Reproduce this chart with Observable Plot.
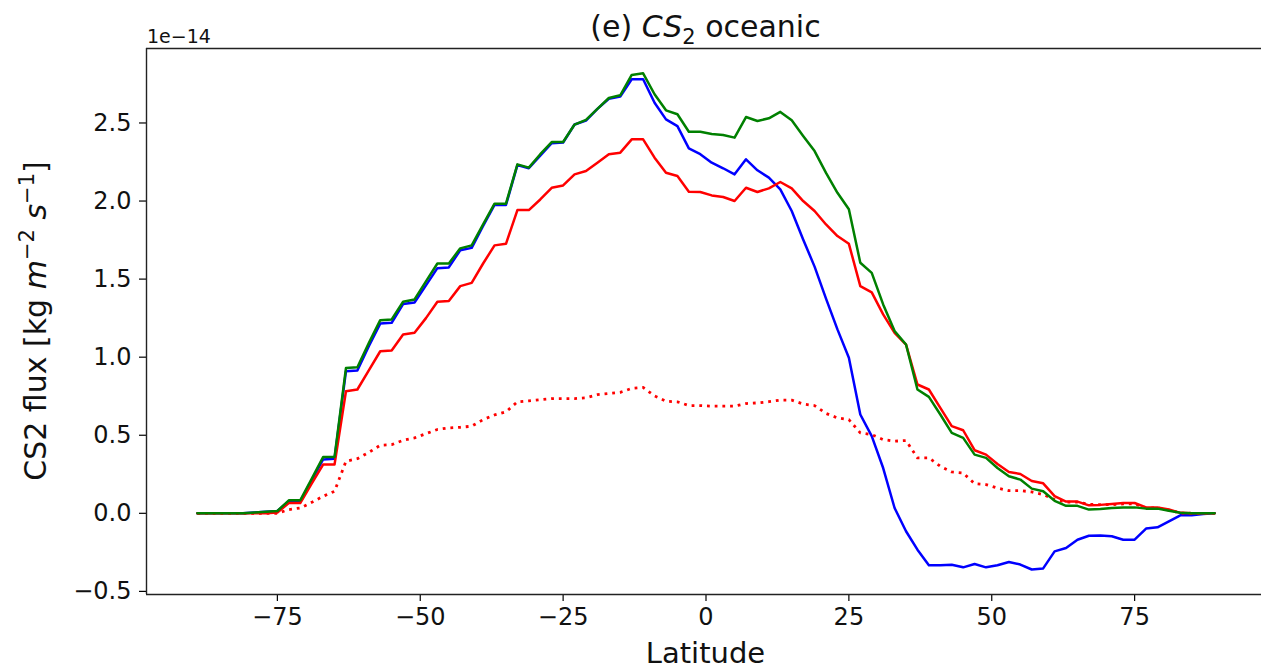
<!DOCTYPE html>
<html>
<head>
<meta charset="utf-8">
<script src="https://cdn.jsdelivr.net/npm/d3@7"></script>
<script src="https://cdn.jsdelivr.net/npm/@observablehq/plot@0.6"></script>
<style>
  html, body { margin: 0; padding: 0; background: #ffffff; }
  #chart { width: 1261px; height: 671px; overflow: hidden; }
</style>
</head>
<body>
<div id="chart"></div>
<script>
// Latitude grid (degrees)
const lat = [
  -89,-87,-85,-83,-81,-79,-77,-75,-73,-71,
  -69,-67,-65,-63,-61,-59,-57,-55,-53,-51,
  -49,-47,-45,-43,-41,-39,-37,-35,-33,-31,
  -29,-27,-25,-23,-21,-19,-17,-15,-13,-11,
  -9,-7,-5,-3,-1,1,3,5,7,9,
  11,13,15,17,19,21,23,25,27,29,
  31,33,35,37,39,41,43,45,47,49,
  51,53,55,57,59,61,63,65,67,69,
  71,73,75,77,79,81,83,85,87,89
];
// CS2 flux, units of 1e-14 kg m-2 s-1
const greenVals = [
  0,0,0,0,0,0.005,0.01,0.015,0.083,0.083,
  0.22,0.36,0.36,0.93,0.935,1.09,1.237,1.242,1.355,1.37,
  1.485,1.60,1.60,1.697,1.716,1.85,1.983,1.983,2.235,2.214,
  2.30,2.378,2.378,2.49,2.52,2.59,2.66,2.677,2.808,2.818,
  2.684,2.581,2.556,2.444,2.444,2.43,2.423,2.406,2.538,2.513,
  2.53,2.571,2.517,2.417,2.32,2.18,2.053,1.947,1.605,1.54,
  1.338,1.167,1.081,0.793,0.746,0.633,0.515,0.483,0.376,0.355,
  0.29,0.237,0.216,0.158,0.141,0.08,0.048,0.048,0.024,0.027,
  0.034,0.038,0.038,0.03,0.03,0.017,0.004,0,0,0
];
const blueVals = [
  0,0,0,0,0,0.005,0.01,0.015,0.078,0.078,
  0.21,0.345,0.35,0.91,0.915,1.07,1.215,1.22,1.34,1.35,
  1.46,1.57,1.575,1.685,1.70,1.84,1.975,1.975,2.23,2.21,
  2.29,2.37,2.375,2.49,2.515,2.59,2.655,2.67,2.78,2.78,
  2.63,2.523,2.48,2.337,2.30,2.246,2.21,2.171,2.267,2.197,
  2.15,2.075,1.936,1.754,1.58,1.375,1.178,0.996,0.633,0.494,
  0.29,0.034,-0.115,-0.233,-0.333,-0.333,-0.33,-0.346,-0.325,-0.346,
  -0.333,-0.312,-0.328,-0.36,-0.353,-0.244,-0.222,-0.169,-0.144,-0.142,
  -0.147,-0.169,-0.169,-0.098,-0.09,-0.051,-0.013,-0.013,-0.004,0
];
const redVals = [
  0,0,0,0,0,0,0,0.005,0.066,0.066,
  0.19,0.312,0.312,0.782,0.793,0.915,1.038,1.043,1.145,1.156,
  1.25,1.355,1.36,1.455,1.476,1.60,1.716,1.726,1.942,1.942,
  2.01,2.085,2.10,2.171,2.192,2.245,2.30,2.31,2.395,2.395,
  2.278,2.181,2.16,2.06,2.058,2.036,2.026,2.0,2.085,2.058,
  2.081,2.122,2.081,2.0,1.936,1.85,1.776,1.726,1.455,1.415,
  1.274,1.156,1.081,0.825,0.793,0.675,0.558,0.532,0.404,0.376,
  0.316,0.265,0.252,0.207,0.192,0.11,0.075,0.075,0.051,0.054,
  0.06,0.066,0.066,0.038,0.038,0.024,0.003,0,0,0
];
const redDottedVals = [
  0,0,0,0,0,0,0,0,0.024,0.034,
  0.07,0.109,0.141,0.333,0.35,0.39,0.436,0.44,0.468,0.483,
  0.51,0.537,0.547,0.551,0.558,0.60,0.63,0.65,0.714,0.72,
  0.728,0.735,0.735,0.735,0.74,0.76,0.767,0.775,0.80,0.806,
  0.752,0.718,0.714,0.69,0.69,0.686,0.686,0.686,0.703,0.707,
  0.715,0.725,0.725,0.70,0.69,0.64,0.611,0.60,0.515,0.504,
  0.472,0.462,0.466,0.355,0.355,0.301,0.265,0.258,0.19,0.184,
  0.162,0.145,0.145,0.137,0.12,0.088,0.072,0.072,0.058,0.055,
  0.055,0.06,0.06,0.035,0.035,0.02,0.002,0,0,0
];
const xTicks = [-75, -50, -25, 0, 25, 50, 75];
const yTicks = [-0.5, 0.0, 0.5, 1.0, 1.5, 2.0, 2.5];

const xDomain = [-97.9, 97.9];
const yDomain = [-0.52, 2.977];

const toRows = (vals) => lat.map((l, i) => ({lat: l, v: vals[i]}));
const minus = (s) => String(s).replace("-", "\u2212");

const W = 1261, H = 671;
const mL = 146, mR = -4, mT = 48, mB = 77;
const FONT = "'DejaVu Sans', sans-serif";

const svg = Plot.plot({
  width: W,
  height: H,
  marginLeft: mL,
  marginRight: mR,
  marginTop: mT,
  marginBottom: mB,
  x: {domain: xDomain, range: [mL, W - mR]},
  y: {domain: yDomain, range: [H - mB, mT]},
  style: {fontFamily: FONT, fontSize: "24px", background: "#ffffff", color: "#000000"},
  marks: [
    Plot.axisX(xTicks, {tickSize: 7, tickPadding: 6, tickFormat: d => minus(d), label: null, strokeWidth: 1.2, fill: "#111"}),
    Plot.axisY(yTicks, {tickSize: 7, tickPadding: 8, tickFormat: d => minus(d.toFixed(1)), label: null, strokeWidth: 1.2, fill: "#111"}),
    Plot.line(toRows(blueVals), {x: "lat", y: "v", stroke: "#0000ff", strokeWidth: 2.5}),
    Plot.line(toRows(redDottedVals), {x: "lat", y: "v", stroke: "#ff0000", strokeWidth: 2.8, strokeDasharray: "2.8,4.9", strokeLinecap: "butt"}),
    Plot.line(toRows(redVals), {x: "lat", y: "v", stroke: "#ff0000", strokeWidth: 2.5}),
    Plot.line(toRows(greenVals), {x: "lat", y: "v", stroke: "#008000", strokeWidth: 2.5}),
    Plot.ruleX([xDomain[0]], {y1: yDomain[0], y2: yDomain[1], stroke: "#222", strokeWidth: 1.4}),
    Plot.ruleY([yDomain[0], yDomain[1]], {x1: xDomain[0], x2: xDomain[1], stroke: "#222", strokeWidth: 1.4})
  ]
});

const s = d3.select(svg);
const cx = (mL + (W - mR)) / 2;

// Title
const title = s.append("text")
  .attr("x", cx).attr("y", 37)
  .attr("text-anchor", "middle")
  .attr("font-family", FONT)
  .attr("font-size", 30)
  .attr("fill", "#111");
title.append("tspan").text("(e) ");
title.append("tspan").attr("font-style", "italic").text("CS");
title.append("tspan").attr("font-size", "0.7em").attr("dy", 7).text("2");
title.append("tspan").attr("dy", -7).text(" oceanic");

// Offset text
s.append("text")
  .attr("x", 147).attr("y", 43)
  .attr("text-anchor", "start")
  .attr("font-family", FONT)
  .attr("font-size", 19)
  .attr("fill", "#111")
  .text("1e\u221214");

// Y label
const yl = s.append("text")
  .attr("transform", `translate(46,${(mT + H - mB) / 2}) rotate(-90)`)
  .attr("text-anchor", "middle")
  .attr("font-family", FONT)
  .attr("font-size", 30)
  .attr("fill", "#111");
yl.append("tspan").text("CS2 flux [kg ");
yl.append("tspan").attr("font-style", "italic").text("m");
yl.append("tspan").attr("font-size", "0.7em").attr("dy", -12).text("\u22122");
yl.append("tspan").attr("dy", 12).text(" ");
yl.append("tspan").attr("font-style", "italic").text("s");
yl.append("tspan").attr("font-size", "0.7em").attr("dy", -12).text("\u22121");
yl.append("tspan").attr("dy", 12).text("]");

// X label
s.append("text")
  .attr("x", cx).attr("y", 663)
  .attr("text-anchor", "middle")
  .attr("font-family", FONT)
  .attr("font-size", 29)
  .attr("fill", "#111")
  .text("Latitude");

document.getElementById("chart").appendChild(svg);
</script>
</body>
</html>
